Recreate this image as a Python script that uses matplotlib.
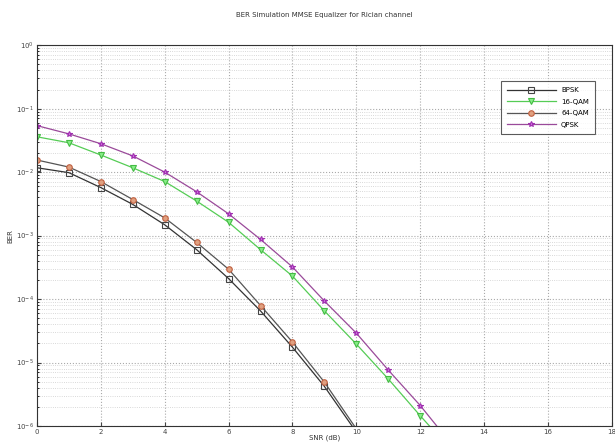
import matplotlib
matplotlib.use("Agg")
import matplotlib.pyplot as plt
import numpy as np
from matplotlib.ticker import FixedLocator, NullFormatter

snr_bpsk = [0, 1, 2, 3, 4, 5, 6, 7, 8, 9, 10]
ber_bpsk = [1.17e-2, 9.8e-3, 5.7e-3, 3.1e-3, 1.48e-3, 6.0e-4, 2.1e-4, 6.5e-5, 1.74e-5, 4.2e-6, 8.0e-7]

snr_16qam = [0, 1, 2, 3, 4, 5, 6, 7, 8, 9, 10, 11, 12, 13]
ber_16qam = [3.6e-2, 2.9e-2, 1.86e-2, 1.17e-2, 7.1e-3, 3.5e-3, 1.62e-3, 6.0e-4, 2.3e-4, 6.5e-5, 1.95e-5, 5.5e-6, 1.45e-6, 4.0e-7]

snr_64qam = [0, 1, 2, 3, 4, 5, 6, 7, 8, 9, 10]
ber_64qam = [1.55e-2, 1.2e-2, 7.1e-3, 3.7e-3, 1.9e-3, 7.8e-4, 2.95e-4, 7.9e-5, 2.1e-5, 4.9e-6, 9.0e-7]

snr_qpsk = [0, 1, 2, 3, 4, 5, 6, 7, 8, 9, 10, 11, 12, 13]
ber_qpsk = [5.4e-2, 4.0e-2, 2.8e-2, 1.8e-2, 1.0e-2, 4.9e-3, 2.2e-3, 8.7e-4, 3.2e-4, 9.3e-5, 2.9e-5, 7.6e-6, 2.1e-6, 5.0e-7]

labels = ["BPSK", "16-QAM", "64-QAM", "QPSK"]
xticks = [0, 2, 4, 6, 8, 10, 12, 14, 16, 18]
yticks = [1e-6, 1e-5, 1e-4, 1e-3, 1e-2, 1e-1, 1e0]

fig = plt.figure(figsize=(6.15, 4.47), dpi=100)
ax = fig.add_axes([0.060, 0.047, 0.935, 0.852])

series = [
    (snr_bpsk, ber_bpsk, "#333333", "s", "#444444", "none"),
    (snr_16qam, ber_16qam, "#55cc55", "v", "#44bb44", "#88ee88"),
    (snr_64qam, ber_64qam, "#555555", "o", "#c06040", "#e0a080"),
    (snr_qpsk, ber_qpsk, "#9a4a9a", "*", "#a030b0", "#d070e0"),
]
for (x, y, lc, mk, mec, mfc), lab in zip(series, labels):
    ax.semilogy(x, y, color=lc, lw=0.9, marker=mk, ms=4, mec=mec, mfc=mfc,
                mew=0.8, label=lab)

ax.set_xlim(0, 18)
ax.set_ylim(1e-6, 1e0)
ax.set_xticks(xticks)
ax.set_yticks(yticks)
minor = [m * t for t in yticks[:-1] for m in range(2, 10)]
ax.yaxis.set_minor_locator(FixedLocator(minor))
ax.yaxis.set_minor_formatter(NullFormatter())
ax.grid(True, which="major", color="#aaaaaa", ls=":", lw=0.8)
ax.grid(True, which="minor", axis="y", color="#cccccc", ls=":", lw=0.6)
ax.tick_params(labelsize=5, direction="in", length=3, colors="#444444", pad=2)
ax.tick_params(which="minor", direction="in", length=1.5)
for s in ax.spines.values():
    s.set_color("#333333")
    s.set_linewidth(0.8)

ax.set_title("BER Simulation MMSE Equalizer for Rician channel", fontsize=5, color="#333333", pad=20)
ax.set_xlabel("SNR (dB)", fontsize=5, color="#333333", labelpad=0)
ax.set_ylabel("BER", fontsize=5, color="#333333", labelpad=2)

leg = ax.legend(loc="upper right", bbox_to_anchor=(0.977, 0.915), fontsize=5,
                frameon=True, fancybox=False, edgecolor="#333333", handlelength=7,
                borderpad=0.9, labelspacing=0.8)
leg.get_frame().set_linewidth(0.8)

fig.savefig("out.png", dpi=100)
